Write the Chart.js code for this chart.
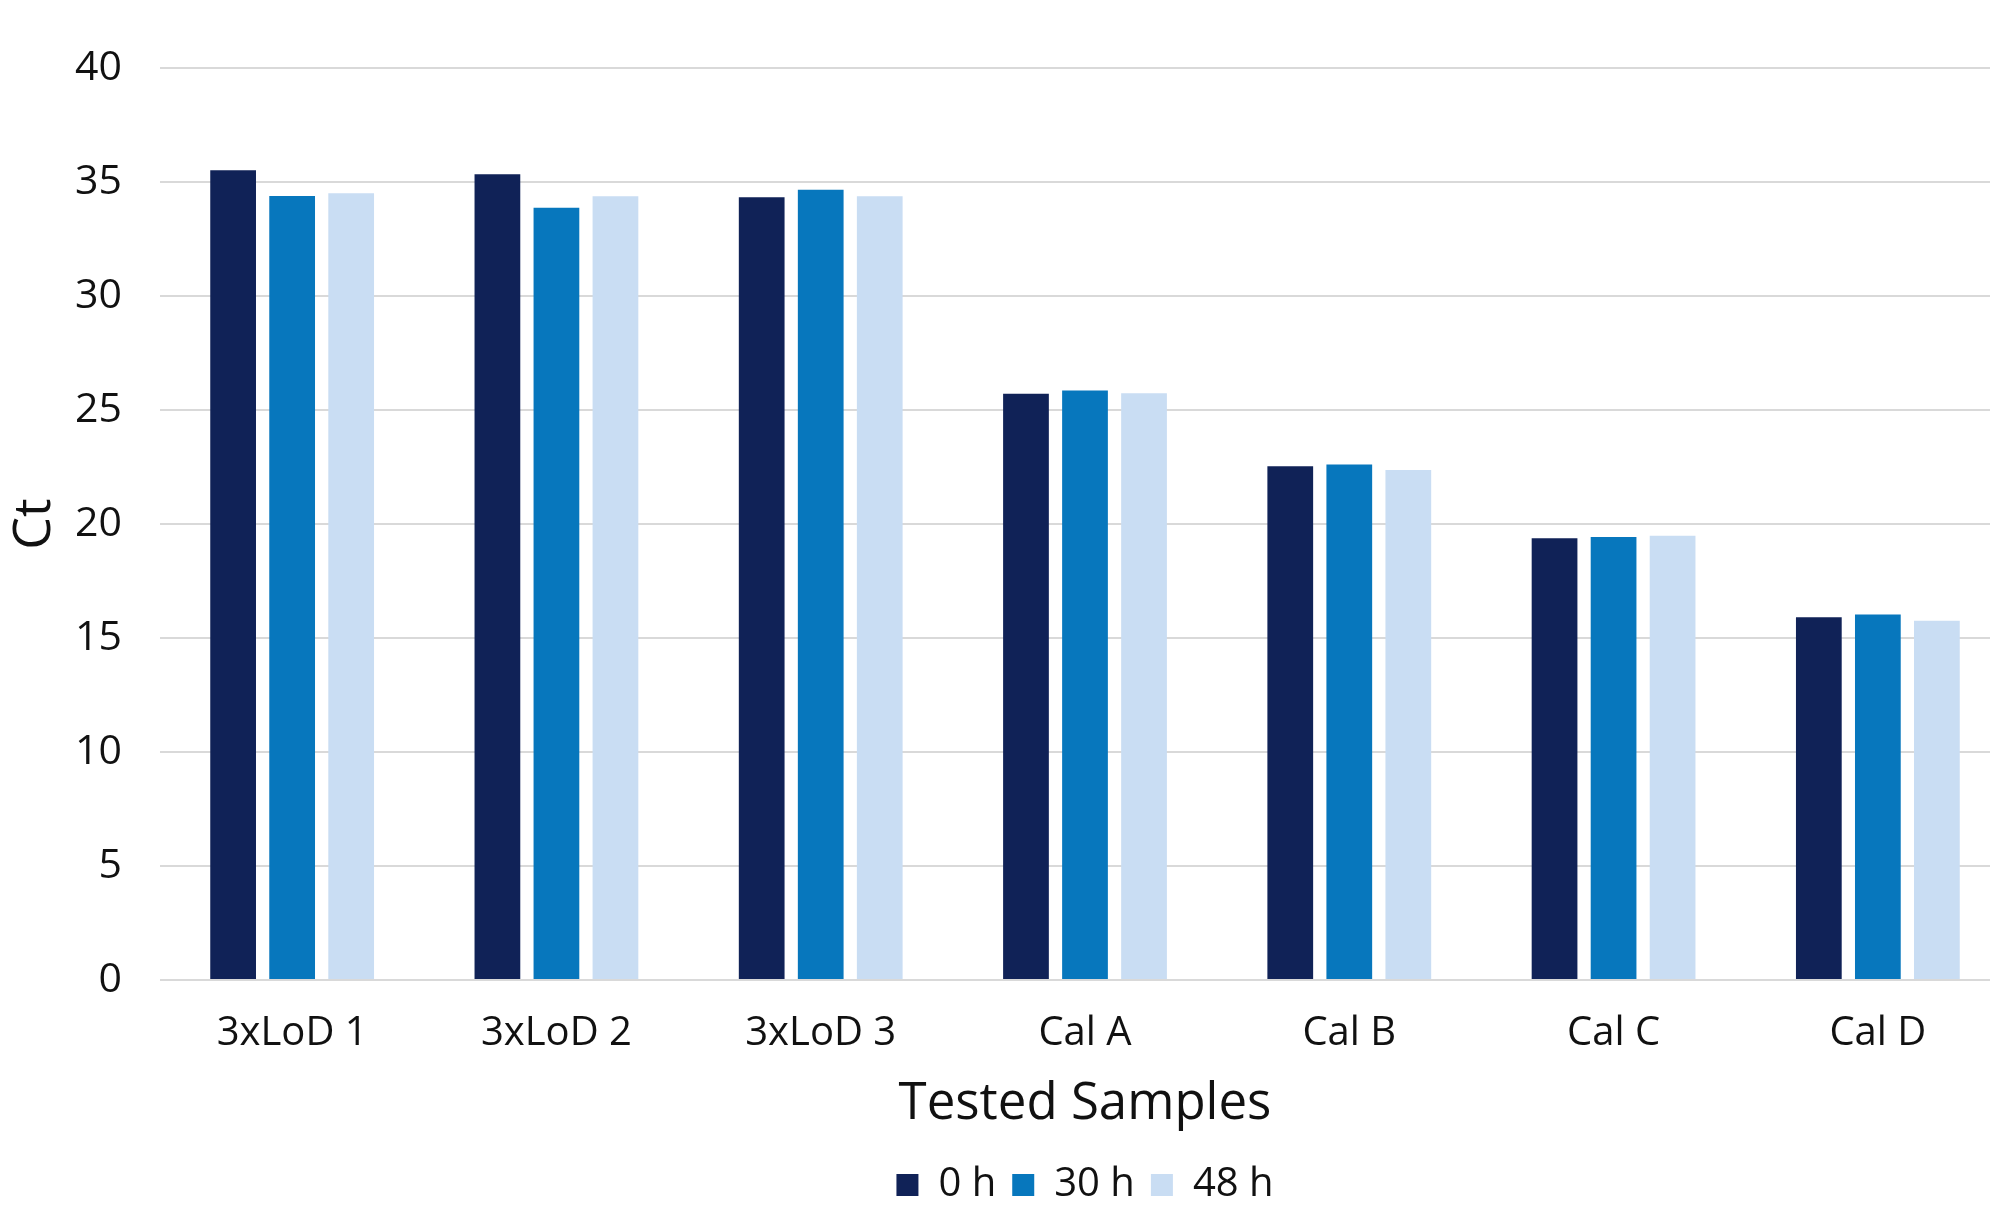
<!DOCTYPE html>
<html>
<head>
<meta charset="utf-8">
<script src="https://cdn.jsdelivr.net/npm/chart.js@4/dist/chart.umd.min.js"></script>
<style>
  html, body { margin: 0; padding: 0; background: #fff; overflow: hidden; }
  #wrap { width: 2010px; height: 1206px; }
</style>
</head>
<body>
<div id="wrap"><canvas id="chart" width="2010" height="1206"></canvas></div>
<script>
// Ct values per sample
const samples = ['3xLoD 1', '3xLoD 2', '3xLoD 3', 'Cal A', 'Cal B', 'Cal C', 'Cal D'];
const ct0h = [35.52, 35.34, 34.33, 25.71, 22.53, 19.37, 15.91];
const ct30h = [34.39, 33.87, 34.66, 25.86, 22.61, 19.43, 16.03];
const ct48h = [34.51, 34.37, 34.38, 25.73, 22.37, 19.48, 15.76];
const seriesLabels = ['0 h', '30 h', '48 h'];
const seriesColors = ['#102257', '#0777bd', '#c9ddf3'];

const FONT = "'Open Sans', 'DejaVu Sans', sans-serif";
const TEXT = '#111111';
const LEGEND_SHIFT = 9;

// Legend sits under the plot area, not under the whole canvas.
const legendAlign = {
  id: 'legendAlign',
  beforeDraw(chart) {
    const lg = chart.legend;
    if (!lg || lg._shifted) return;
    lg.left = chart.chartArea.left;
    lg.right = chart.chartArea.right;
    lg.width = lg.right - lg.left;
    lg.top += LEGEND_SHIFT;
    lg.bottom += LEGEND_SHIFT;
    lg._shifted = true;
  },
  afterUpdate(chart) {
    if (chart.legend) chart.legend._shifted = false;
  },
};

const datasets = [ct0h, ct30h, ct48h].map((vals, i) => ({
  label: seriesLabels[i],
  data: vals,
  backgroundColor: seriesColors[i],
  borderWidth: 0,
  categoryPercentage: 0.67,
  barPercentage: 0.775,
}));

new Chart(document.getElementById('chart'), {
  type: 'bar',
  data: { labels: samples, datasets },
  plugins: [legendAlign],
  options: {
    responsive: false,
    animation: false,
    devicePixelRatio: 1,
    layout: { padding: { top: 68, left: 0, right: 0, bottom: 0 } },
    plugins: {
      tooltip: { enabled: false },
      legend: {
        position: 'bottom',
        labels: {
          color: TEXT,
          font: { family: FONT, size: 40 },
          boxWidth: 22,
          boxHeight: 22,
          padding: 16,
        },
      },
    },
    scales: {
      x: {
        grid: { display: false },
        border: { display: false },
        ticks: { color: TEXT, font: { family: FONT, size: 40 }, padding: 22, maxRotation: 0 },
        title: {
          display: true,
          text: 'Tested Samples',
          color: TEXT,
          font: { family: FONT, size: 51 },
          padding: { top: 0, bottom: 5 },
        },
        afterFit(s) {
          const lh = s.chart.legend ? s.chart.legend.height : 0;
          s.height = 1206 - 980 - lh;
        },
      },
      y: {
        min: 0,
        max: 40,
        ticks: { stepSize: 5, color: TEXT, font: { family: FONT, size: 41 }, padding: 38 },
        grid: { color: '#d9d9d9', lineWidth: 2, drawTicks: false },
        border: { display: false },
        title: {
          display: true,
          text: 'Ct',
          color: TEXT,
          font: { family: FONT, size: 52 },
          padding: 4,
        },
        afterFit(s) { s.width = 160; },
      },
    },
  },
});
</script>
</body>
</html>
